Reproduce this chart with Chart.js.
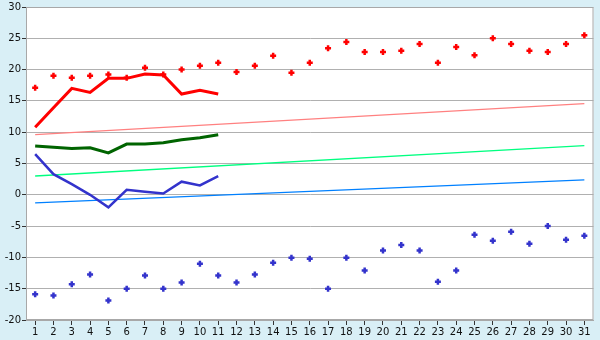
<!DOCTYPE html>
<html><head><meta charset="utf-8">
<script src="https://cdn.jsdelivr.net/npm/chart.js@4/dist/chart.umd.min.js"></script>
<style>html,body{margin:0;padding:0;background:#d9eff6;}#wrap{width:600px;height:340px;}</style>
</head><body><div id="wrap"><canvas id="c" width="600" height="340"></canvas></div>
<script>
const days = ['1','2','3','4','5','6','7','8','9','10','11','12','13','14','15','16','17','18','19','20','21','22','23','24','25','26','27','28','29','30','31'];
const recordHigh = [17.1,19.0,18.7,19.0,19.2,18.7,20.3,19.2,20.0,20.6,21.1,19.6,20.6,22.2,19.5,21.1,23.4,24.4,22.8,22.8,23.0,24.1,21.1,23.6,22.3,25.0,24.1,23.0,22.8,24.1,25.5];
const recordLow = [-15.9,-16.1,-14.3,-12.75,-16.9,-15.0,-12.9,-15.0,-14.0,-11.0,-12.9,-14.0,-12.75,-10.85,-10.05,-10.2,-15.0,-10.05,-12.1,-8.9,-8.0,-8.9,-13.9,-12.1,-6.4,-7.35,-5.9,-7.8,-5.0,-7.2,-6.55];
const maxTemp = [10.8,13.9,17.0,16.35,18.6,18.6,19.3,19.15,16.1,16.7,16.1];
const meanTemp = [7.8,7.6,7.4,7.5,6.7,8.1,8.1,8.3,8.8,9.1,9.6];
const minTemp = [6.5,3.3,1.7,0.0,-2.0,0.8,0.5,0.2,2.1,1.5,3.0];
const normalMaxEnds = [9.6,14.55];
const normalMeanEnds = [3.0,7.85];
const normalMinEnds = [-1.3,2.4];
const yTicks = {min:-20,max:30,step:5};

function ends(e){const a=days.map(()=>null);a[0]=e[0];a[a.length-1]=e[1];return a;}

const bgPlugin = {
  id:'bg',
  beforeDraw(ch){const {ctx,chartArea:a}=ch;ctx.save();ctx.fillStyle='#d9eff6';ctx.fillRect(0,0,ch.width,ch.height);ctx.fillStyle='#ffffff';ctx.fillRect(a.left,a.top,a.right-a.left,a.bottom-a.top);ctx.restore();},
  afterDraw(ch){const {ctx,chartArea:a}=ch;ctx.save();ctx.strokeStyle='#a8a8a8';ctx.lineWidth=1;ctx.strokeRect(a.left+0.5,a.top+0.5,a.right-a.left-1,a.bottom-a.top-1);ctx.restore();}
};

const lineDs=(data,color,w)=>({data,borderColor:color,backgroundColor:color,borderWidth:w,pointRadius:0,tension:0,fill:false,order:2});
const trendDs=(data,color)=>({data,borderColor:color,borderWidth:1.3,pointRadius:0,spanGaps:true,fill:false,order:3});
const ptDs=(data,color)=>({data,showLine:false,pointStyle:'cross',pointRadius:3,pointBorderWidth:2.5,borderColor:color,backgroundColor:color,order:1});

new Chart(document.getElementById('c'),{
  type:'line',
  data:{labels:days,datasets:[
    trendDs(ends(normalMaxEnds),'#ff8080'),
    trendDs(ends(normalMeanEnds),'#00ff80'),
    trendDs(ends(normalMinEnds),'#0080ff'),
    lineDs(maxTemp,'#ff0000',3),
    lineDs(meanTemp,'#006400',3),
    lineDs(minTemp,'#3333cc',2.5),
    ptDs(recordHigh,'#ff0000'),
    ptDs(recordLow,'#3333cc')
  ]},
  options:{
    responsive:false,animation:false,
    layout:{padding:{left:0,right:5,top:5,bottom:0}},
    plugins:{legend:{display:false},tooltip:{enabled:false}},
    scales:{
      x:{offset:true,
        grid:{offset:false,drawOnChartArea:false,tickLength:5,tickColor:'#333',color:'#333'},
        border:{color:'#a8a8a8'},
        ticks:{color:'#111',font:{family:'DejaVu Sans',size:10},padding:1,maxRotation:0,autoSkip:false},
        afterFit(s){s.height=20;}
      },
      y:{min:yTicks.min,max:yTicks.max,
        grid:{color:'#b0b0b0',tickLength:4,tickColor:'#333'},
        border:{color:'#a8a8a8'},
        ticks:{stepSize:yTicks.step,color:'#111',font:{family:'DejaVu Sans',size:10},padding:1},
        afterFit(s){s.width=26;}
      }
    }
  },
  plugins:[bgPlugin]
});
</script></body></html>
